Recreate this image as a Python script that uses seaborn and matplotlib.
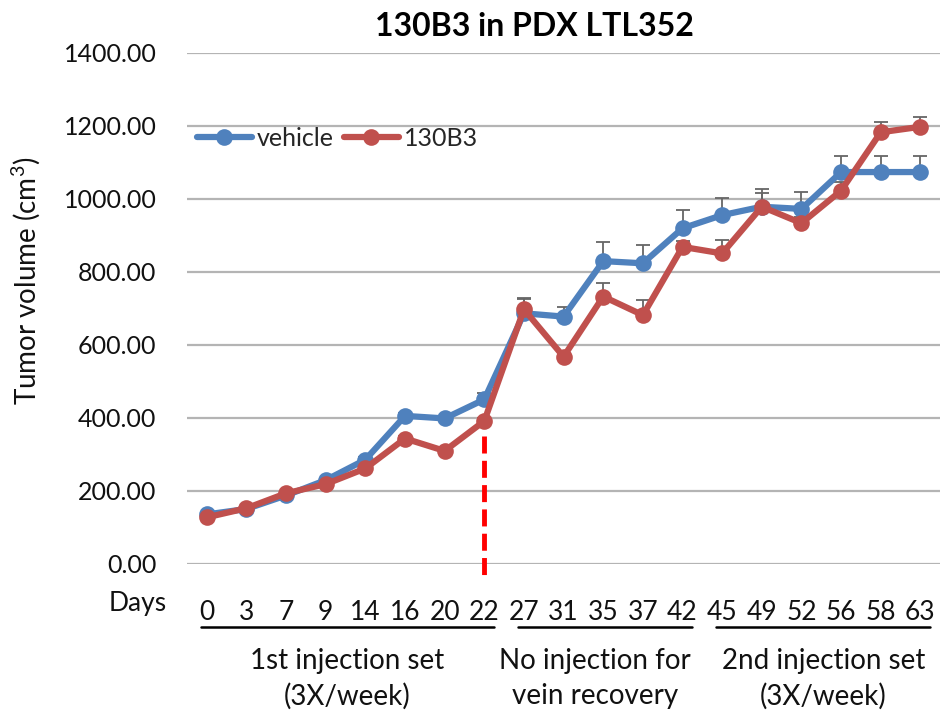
import matplotlib
matplotlib.use("Agg")
import matplotlib.pyplot as plt
import matplotlib.transforms as mtransforms
import numpy as np
import pandas as pd
import seaborn as sns

# ---- data ----
days = ["0", "3", "7", "9", "14", "16", "20", "22", "27", "31", "35", "37", "42",
        "45", "49", "52", "56", "58", "63"]
vehicle = [135, 150, 187, 229, 285, 405, 398, 450, 686, 677, 829, 823, 919,
           955, 978, 972, 1073, 1073, 1073]
vehicle_err = [4, 4, 5, 6, 8, 8, 8, 18, 40, 26, 51, 50, 50, 48, 48, 47, 43, 44, 44]
drug = [127, 152, 193, 218, 261, 343, 309, 391, 697, 567, 732, 681, 868,
        850, 978, 933, 1022, 1182, 1197]
drug_err = [3, 3, 4, 5, 6, 7, 7, 8, 30, 10, 36, 41, 15, 37, 37, 18, 23, 27, 26]
series_names = ["vehicle", "130B3"]
phase_labels = ["1st injection set\n(3X/week)", "No injection for\nvein recovery",
                "2nd injection set\n(3X/week)"]
phase_spans = [(0, 7), (8, 12), (13, 18)]
ytick_vals = [0, 200, 400, 600, 800, 1000, 1200, 1400]

BLUE = "#4F81BD"
RED = "#C0504D"

sns.set_theme(style="white")
FONT = ["Lato", "DejaVu Sans"]
plt.rcParams["font.family"] = FONT
plt.rcParams["mathtext.fontset"] = "custom"
plt.rcParams["mathtext.rm"] = "Lato"
plt.rcParams["mathtext.it"] = "Lato:italic"

idx = np.arange(len(days))
df = pd.DataFrame({
    "idx": np.concatenate([idx, idx]),
    "volume": vehicle + drug,
    "group": [series_names[0]] * len(days) + [series_names[1]] * len(days),
})

fig = plt.figure(figsize=(9.42, 7.14), dpi=100)
ax = fig.add_axes([0.1985, 0.2105, 0.7996, 0.7157])

# error bars (upper only)
for vals, errs in [(vehicle, vehicle_err), (drug, drug_err)]:
    ax.errorbar(idx, vals, yerr=[np.zeros(len(errs)), errs], fmt="none",
                ecolor="#666666", elinewidth=1.3, capsize=5, capthick=1.3, zorder=2)

sns.lineplot(data=df, x="idx", y="volume", hue="group",
             palette={series_names[0]: BLUE, series_names[1]: RED},
             marker="o", markersize=12, markeredgewidth=0, linewidth=4.5,
             ax=ax, zorder=3, legend=True)

# red dashed separator at day 22
sep = days.index("22")
ax.plot([sep, sep], [drug[sep] - 40, -40], color="#FF0000", lw=3.5,
        dashes=(3.5, 1.5), clip_on=False, zorder=2.5)

ax.set_xlim(-0.5, len(days) - 0.5)
ax.set_ylim(0, 1400)
ax.set_yticks(ytick_vals)
ax.set_yticklabels([f"{v:.2f}" for v in ytick_vals], fontsize=18, color="#111111")
ax.set_xticks(idx)
ax.set_xticklabels(days, fontsize=19, color="#111111")
ax.tick_params(axis="x", length=0, pad=26)
ax.tick_params(axis="y", length=0, pad=22)
ax.grid(axis="y", color="#B4B4B4", lw=1.6)
ax.set_axisbelow(True)
for s in ax.spines.values():
    s.set_visible(False)

ax.set_xlabel("")
ax.set_ylabel("Tumor volume (cm$^3$)", fontsize=20, color="#111111")
ax.yaxis.set_label_coords(-0.192, 0.553)
ax.set_title("130B3 in PDX LTL352", fontsize=23, fontweight="bold", pad=12,
             color="#000000", x=0.461)

trans = mtransforms.blended_transform_factory(ax.transData, ax.transAxes)
ax.text(-1.75, -0.077, "Days", transform=trans, ha="center", va="center",
        fontsize=19, color="#111111")
offsets = [0.05, -0.2, 0.05]
for (a, b), lab, off in zip(phase_spans, phase_labels, offsets):
    ax.plot([a - 0.15, b + 0.25], [-0.124, -0.124], transform=trans, color="black",
            lw=1.8, clip_on=False)
    ax.text((a + b) / 2 + off, -0.225, lab, transform=trans, ha="center",
            va="center", fontsize=20, linespacing=1.42, color="#111111")

leg = ax.legend(loc="center left", bbox_to_anchor=(0.0, 0.833), ncol=2,
                frameon=False, fontsize=18, handlelength=2.2, handletextpad=0.2,
                columnspacing=0.4, borderaxespad=0)

fig.savefig("out.png", dpi=100, facecolor="white")
